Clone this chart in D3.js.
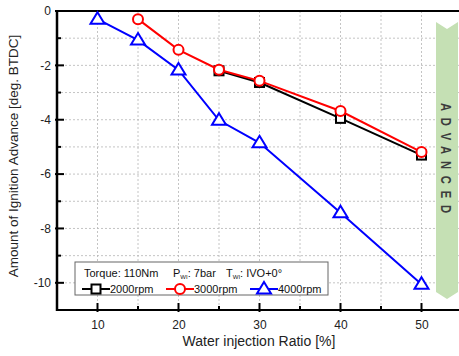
<!DOCTYPE html>
<html><head><meta charset="utf-8">
<script src="https://cdn.jsdelivr.net/npm/d3@7"></script>
<style>
body{margin:0;background:#fff;}
svg{display:block;font-family:"Liberation Sans",Arial,sans-serif;}
</style></head>
<body><svg id="c" width="459" height="356"></svg>
<script>
// Water injection ratio [%] and ignition advance [deg. BTDC] per engine speed
const ratio2000 = [25, 30, 40, 50];
const adv2000   = [-2.2, -2.63, -3.95, -5.3];
const ratio3000 = [15, 20, 25, 30, 40, 50];
const adv3000   = [-0.3, -1.43, -2.16, -2.57, -3.68, -5.19];
const ratio4000 = [10, 15, 20, 25, 30, 40, 50];
const adv4000   = [-0.3, -1.07, -2.17, -4.02, -4.85, -7.42, -10.05];
const xTicks = [10, 20, 30, 40, 50];
const yTicks = [0, -2, -4, -6, -8, -10];

const svg = d3.select("#c");
const L = 57, T = 11, R = 462, B = 310;
const x = d3.scaleLinear().domain([5, 55]).range([L, R]);
const y = d3.scaleLinear().domain([-11, 0]).range([B, T]);

// grid
const grid = svg.append("g").attr("stroke", "#b5b5b5").attr("stroke-width", 0.8).attr("stroke-dasharray", "2,2");
d3.range(10, 55, 5).forEach(v => grid.append("line").attr("x1", x(v)).attr("x2", x(v)).attr("y1", T).attr("y2", B));
d3.range(-10, 0, 1).forEach(v => grid.append("line").attr("x1", L).attr("x2", 459).attr("y1", y(v)).attr("y2", y(v)));

// advance arrow band
const ax0 = 436, ax1 = 458, axm = (ax0 + ax1) / 2;
svg.append("path")
  .attr("d", `M${ax0},22 L${axm},29 L${ax1},22 L${ax1},292 L${axm},299 L${ax0},292 Z`)
  .attr("fill", "#c5e0b4");
const sp = 9;
svg.append("text")
  .attr("transform", `translate(${axm - 6},${158 + sp * 0.375}) rotate(90) scale(0.75,1)`)
  .attr("text-anchor", "middle")
  .attr("font-size", 15).attr("font-weight", "bold").attr("fill", "#3c3c3c")
  .attr("letter-spacing", sp + "px")
  .text("ADVANCED");

// axes frame
svg.append("line").attr("x1", L).attr("x2", 459).attr("y1", T).attr("y2", T).attr("stroke", "#000").attr("stroke-width", 2);
const xAxis = svg.append("g").attr("transform", `translate(0,${B})`)
  .call(d3.axisBottom(x).tickValues(xTicks).tickSize(0).tickPadding(10).tickFormat(d3.format("d")));
xAxis.select(".domain").remove();
const yAxis = svg.append("g").attr("transform", `translate(${L},0)`)
  .call(d3.axisLeft(y).tickValues(yTicks).tickSize(0).tickPadding(6).tickFormat(d => String(d)));
yAxis.select(".domain").remove();
svg.selectAll(".tick text").attr("font-size", 12).attr("fill", "#222").attr("font-family", "Liberation Sans, Arial, sans-serif");

const tk = svg.append("g").attr("stroke", "#000").attr("stroke-width", 2);
d3.range(10, 55, 5).forEach(v => {
  const major = v % 10 === 0;
  tk.append("line").attr("x1", x(v)).attr("x2", x(v)).attr("y1", B - (major ? 7 : 4)).attr("y2", B + (major ? 2 : 0));
});
d3.range(-10, 1, 1).forEach(v => {
  const major = v % 2 === 0;
  tk.append("line").attr("x1", L - (major ? 2 : 0)).attr("x2", L + (major ? 7 : 4)).attr("y1", y(v)).attr("y2", y(v));
});
svg.append("line").attr("x1", L).attr("x2", 459).attr("y1", B).attr("y2", B).attr("stroke", "#000").attr("stroke-width", 2);
svg.append("line").attr("x1", L).attr("x2", L).attr("y1", T - 1).attr("y2", B + 1).attr("stroke", "#000").attr("stroke-width", 2.5);

// series
const series = [
  {name: "2000rpm", xs: ratio2000, ys: adv2000, color: "#000000", shape: "square"},
  {name: "3000rpm", xs: ratio3000, ys: adv3000, color: "#ff0000", shape: "circle"},
  {name: "4000rpm", xs: ratio4000, ys: adv4000, color: "#0000ff", shape: "triangle"}
];
function marker(g, shape, cx, cy, color) {
  if (shape === "square")
    g.append("rect").attr("x", cx - 4.5).attr("y", cy - 4.5).attr("width", 9).attr("height", 9)
      .attr("fill", "#fff").attr("stroke", color).attr("stroke-width", 2);
  else if (shape === "circle")
    g.append("circle").attr("cx", cx).attr("cy", cy).attr("r", 5)
      .attr("fill", "#fff").attr("stroke", color).attr("stroke-width", 2);
  else
    g.append("path").attr("d", `M${cx},${cy - 7} L${cx + 7},${cy + 4.5} L${cx - 7},${cy + 4.5} Z`)
      .attr("fill", "#fff").attr("stroke", color).attr("stroke-width", 2).attr("stroke-linejoin", "miter");
}
const line = d3.line();
series.forEach(s => {
  const pts = s.xs.map((v, i) => [x(v), y(s.ys[i])]);
  const g = svg.append("g");
  g.append("path").attr("d", line(pts)).attr("fill", "none").attr("stroke", s.color).attr("stroke-width", 2);
  pts.forEach(p => marker(g, s.shape, p[0], p[1], s.color));
});

// legend
const lg = svg.append("g");
lg.append("rect").attr("x", 75).attr("y", 262).attr("width", 253).attr("height", 33)
  .attr("fill", "#fff").attr("stroke", "#666").attr("stroke-width", 1);
const t1 = lg.append("text").attr("y", 277).attr("font-size", 11).attr("fill", "#111");
t1.append("tspan").attr("x", 84).text("Torque: 110Nm");
t1.append("tspan").attr("x", 173).text("P");
t1.append("tspan").attr("font-size", 6).attr("dy", 2).text("WI");
t1.append("tspan").attr("dy", -2).text(": 7bar");
t1.append("tspan").attr("x", 226).text("T");
t1.append("tspan").attr("font-size", 6).attr("dy", 2).text("WI");
t1.append("tspan").attr("dy", -2).text(": IVO+0°");
const lx = [82, 166, 250];
series.forEach((s, i) => {
  const cy = 289;
  lg.append("line").attr("x1", lx[i]).attr("x2", lx[i] + 28).attr("y1", cy).attr("y2", cy).attr("stroke", s.color).attr("stroke-width", 2);
  marker(lg, s.shape, lx[i] + 14, cy, s.color);
  lg.append("text").attr("x", lx[i] + 28).attr("y", cy + 4).attr("font-size", 11).attr("fill", "#111").text(s.name);
});

// axis titles
svg.append("text").attr("x", 259).attr("y", 346).attr("text-anchor", "middle").attr("font-size", 14).attr("fill", "#222")
  .text("Water injection Ratio [%]");
svg.append("text").attr("transform", "translate(18,156) rotate(-90)").attr("text-anchor", "middle").attr("font-size", 13.5).attr("fill", "#222")
  .text("Amount of Ignition Advance [deg. BTDC]");
</script></body></html>
